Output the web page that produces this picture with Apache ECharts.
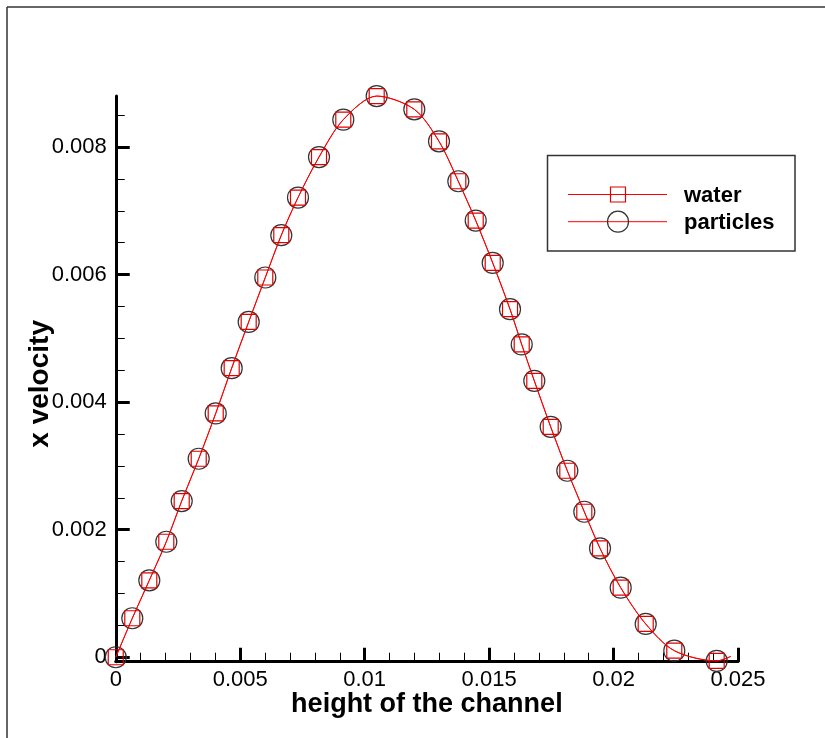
<!DOCTYPE html>
<html>
<head>
<meta charset="utf-8">
<script src="https://cdn.jsdelivr.net/npm/echarts@6/dist/echarts.min.js"></script>
<style>
html,body{margin:0;padding:0;background:#fff;}
#chart{width:825px;height:738px;}
</style>
</head>
<body>
<div id="chart"></div>
<script>
// ---- data ----
const seriesNames = ['water', 'particles'];
const xTitle = 'height of the channel';
const yTitle = 'x velocity';

const heights = [0, 0.000665, 0.001348, 0.002031, 0.00265, 0.003333, 0.004016, 0.004658, 0.005341, 0.006008,
  0.006651, 0.007322, 0.008166, 0.009142, 0.010484, 0.011995, 0.012987, 0.013763, 0.014462, 0.015145,
  0.01584, 0.01631, 0.016816, 0.017475, 0.018142, 0.018825, 0.019456, 0.020287, 0.021292, 0.02244, 0.024144];
const waterVel = [0, 0.000611, 0.001206, 0.001811, 0.002449, 0.003112, 0.003823, 0.004533, 0.005258, 0.005954,
  0.006617, 0.007207, 0.007843, 0.008429, 0.008799, 0.008591, 0.008089, 0.007463, 0.006847, 0.006183,
  0.005457, 0.004904, 0.004334, 0.003613, 0.002924, 0.002281, 0.001708, 0.001091, 0.000522, 0.000103, -0.000058];
const particleVel = [0, 0.000611, 0.001206, 0.001811, 0.002449, 0.003112, 0.003823, 0.004533, 0.005258, 0.005954,
  0.006617, 0.007207, 0.007843, 0.008429, 0.008799, 0.008591, 0.008089, 0.007463, 0.006847, 0.006183,
  0.005457, 0.004904, 0.004334, 0.003613, 0.002924, 0.002281, 0.001708, 0.001091, 0.000522, 0.000103, -0.000058];
// the curve continues a little past the last marker
const tailHeight = 0.02471;
const tailVel = 0.000013;

const xTickValues = [0, 0.005, 0.01, 0.015, 0.02, 0.025];
const xTickLabels = ['0', '0.005', '0.01', '0.015', '0.02', '0.025'];
const xMinorTicks = [0.001, 0.002, 0.003, 0.004, 0.006, 0.007, 0.008, 0.009, 0.011, 0.012, 0.013, 0.014,
  0.016, 0.017, 0.018, 0.019, 0.021, 0.022, 0.023, 0.024];
const yTickValues = [0, 0.002, 0.004, 0.006, 0.008];
const yTickLabels = ['0', '0.002', '0.004', '0.006', '0.008'];
const yMinorTicks = [0.0005, 0.001, 0.0015, 0.0025, 0.003, 0.0035, 0.0045, 0.005, 0.0055, 0.0065, 0.007,
  0.0075, 0.0085];

// ---- chart ----
const FONT = '"Liberation Sans", Arial, Helvetica, sans-serif';
const chart = echarts.init(document.getElementById('chart'), null, {renderer: 'canvas'});

function labelFor(values, labels) {
  return function (v) {
    for (let i = 0; i < values.length; i++) {
      if (Math.abs(values[i] - v) < 1e-9) return labels[i];
    }
    return '';
  };
}

function buildData(xs, ys) {
  const d = xs.map((x, i) => [x, ys[i]]);
  d.push({value: [tailHeight, tailVel], symbol: 'none'});
  return d;
}

const XMIN = 0, XMAX = 0.025, YMIN = -0.00007, YMAX = 0.0088;

const option = {
  animation: false,
  backgroundColor: '#fff',
  grid: {left: 115.75, right: 87, top: 96, bottom: 76.3, containLabel: false},
  xAxis: [{
    type: 'value', min: XMIN, max: XMAX, position: 'bottom',
    name: xTitle, nameLocation: 'middle', nameGap: 29, nameMoveOverlap: false,
    nameTextStyle: {fontFamily: FONT, fontSize: 27, fontWeight: 'bold', color: '#000'},
    axisLine: {show: true, onZero: false, lineStyle: {color: '#000', width: 3}},
    axisTick: {show: true, inside: true, length: 14, customValues: xTickValues, lineStyle: {color: '#000', width: 3}},
    axisLabel: {show: true, customValues: xTickValues, formatter: labelFor(xTickValues, xTickLabels),
      margin: 7, fontFamily: FONT, fontSize: 22, color: '#000'},
    splitLine: {show: false}
  }, {
    type: 'value', min: XMIN, max: XMAX, position: 'bottom',
    axisLine: {show: false, onZero: false},
    axisTick: {show: true, inside: true, length: 9, customValues: xMinorTicks, lineStyle: {color: '#000', width: 1}},
    axisLabel: {show: false},
    splitLine: {show: false}
  }],
  yAxis: [{
    type: 'value', min: YMIN, max: YMAX, position: 'left',
    name: yTitle, nameLocation: 'middle', nameGap: 61, nameRotate: 90, nameMoveOverlap: false,
    nameTextStyle: {fontFamily: FONT, fontSize: 28, fontWeight: 'bold', color: '#000', padding: [0, 10, 0, 0]},
    axisLine: {show: true, onZero: false, lineStyle: {color: '#000', width: 3}},
    axisTick: {show: true, inside: true, length: 14, customValues: yTickValues, lineStyle: {color: '#000', width: 3}},
    axisLabel: {show: true, customValues: yTickValues, formatter: labelFor(yTickValues, yTickLabels),
      margin: 9, fontFamily: FONT, fontSize: 22, color: '#000'},
    splitLine: {show: false}
  }, {
    type: 'value', min: YMIN, max: YMAX, position: 'left',
    axisLine: {show: false, onZero: false},
    axisTick: {show: true, inside: true, length: 9, customValues: yMinorTicks, lineStyle: {color: '#000', width: 1}},
    axisLabel: {show: false},
    splitLine: {show: false}
  }],
  series: [{
    name: seriesNames[0], type: 'line', xAxisIndex: 0, yAxisIndex: 0, z: 3,
    data: buildData(heights, waterVel),
    smooth: 0.3, clip: false,
    symbol: 'rect', symbolSize: 15, showAllSymbol: true,
    lineStyle: {color: '#ff0000', width: 1},
    itemStyle: {color: 'rgba(0,0,0,0)', borderColor: '#e00000', borderWidth: 1.2},
    emphasis: {disabled: true}
  }, {
    name: seriesNames[1], type: 'line', xAxisIndex: 0, yAxisIndex: 0, z: 2,
    data: buildData(heights, particleVel),
    smooth: 0.3, clip: false,
    symbol: 'circle', symbolSize: 21, showAllSymbol: true,
    lineStyle: {color: '#ff0000', width: 1},
    itemStyle: {color: 'rgba(0,0,0,0)', borderColor: '#333', borderWidth: 1.2},
    emphasis: {disabled: true}
  }],
  graphic: [
    // outer frame
    {type: 'line', shape: {x1: 7, y1: 7, x2: 825, y2: 7}, style: {stroke: '#333', lineWidth: 1.5}, silent: true},
    {type: 'line', shape: {x1: 7, y1: 7, x2: 7, y2: 738}, style: {stroke: '#333', lineWidth: 1.5}, silent: true},
    // legend
    {type: 'rect', shape: {x: 547.5, y: 155.5, width: 247.5, height: 95.5},
      style: {fill: '#fff', stroke: '#333', lineWidth: 1.5}, z: 10},
    {type: 'line', shape: {x1: 568, y1: 194.5, x2: 667, y2: 194.5}, style: {stroke: '#ff0000', lineWidth: 1}, z: 11},
    {type: 'rect', shape: {x: 610.5, y: 187, width: 15, height: 15},
      style: {fill: 'none', stroke: '#e00000', lineWidth: 1.2}, z: 12},
    {type: 'text', left: 684, top: 194.5 - 10, z: 12,
      style: {text: seriesNames[0], font: 'bold 22px ' + FONT, fill: '#000', textVerticalAlign: 'top'}},
    {type: 'line', shape: {x1: 568, y1: 221.7, x2: 667, y2: 221.7}, style: {stroke: '#ff0000', lineWidth: 1}, z: 11},
    {type: 'circle', shape: {cx: 618, cy: 221.7, r: 10.5},
      style: {fill: 'none', stroke: '#333', lineWidth: 1.2}, z: 12},
    {type: 'text', left: 684, top: 221.7 - 10, z: 12,
      style: {text: seriesNames[1], font: 'bold 22px ' + FONT, fill: '#000', textVerticalAlign: 'top'}}
  ]
};
chart.setOption(option);
</script>
</body>
</html>
